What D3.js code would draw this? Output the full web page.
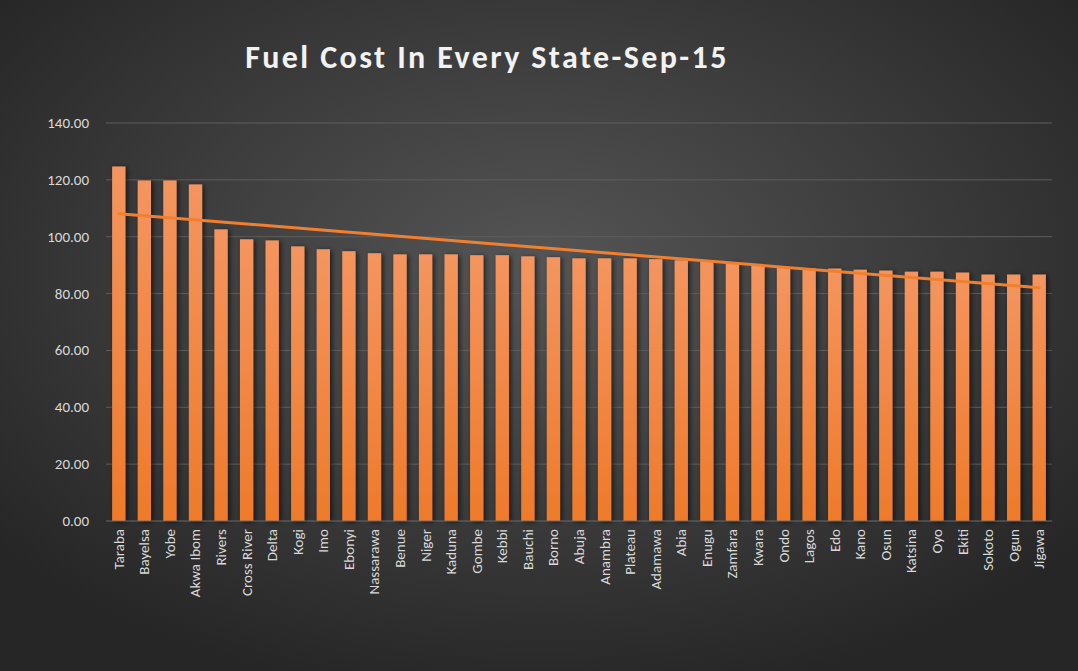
<!DOCTYPE html>
<html>
<head>
<meta charset="utf-8">
<script src="https://cdn.jsdelivr.net/npm/d3@7"></script>
<style>
  body { margin: 0; background: #2b2b2b; }
  text { font-family: Calibri, Carlito, "Liberation Sans", sans-serif; }
</style>
</head>
<body>
<div id="chart"></div>
<script>
    const states = ["Taraba","Bayelsa","Yobe","Akwa Ibom","Rivers","Cross River","Delta","Kogi","Imo","Ebonyi",
                    "Nassarawa","Benue","Niger","Kaduna","Gombe","Kebbi","Bauchi","Borno","Abuja","Anambra",
                    "Plateau","Adamawa","Abia","Enugu","Zamfara","Kwara","Ondo","Lagos","Edo","Kano",
                    "Osun","Katsina","Oyo","Ekiti","Sokoto","Ogun","Jigawa"];
    const costs = [124.7,119.8,119.8,118.4,102.6,99.1,98.7,96.6,95.6,94.9,
                   94.2,93.8,93.8,93.8,93.5,93.5,93.1,92.8,92.4,92.4,
                   92.4,92.1,91.7,91.3,91.0,89.8,89.2,88.8,88.8,88.4,
                   88.1,87.7,87.7,87.4,86.7,86.7,86.7];
    const yTicks = [0,20,40,60,80,100,120,140];

    const width = 1078, height = 671,
          margin = {top: 123, right: 26, bottom: 150, left: 106};

    const svg = d3.select('#chart').append('svg')
            .attr("width", width).attr("height", height);
    const defs = svg.append("defs");
    const bg = defs.append("radialGradient").attr("id", "bg")
            .attr("cx", "50%").attr("cy", "40%").attr("r", "65%");
    bg.append("stop").attr("offset", "0%").attr("stop-color", "#555555");
    bg.append("stop").attr("offset", "100%").attr("stop-color", "#262626");
    const bar = defs.append("linearGradient").attr("id", "bar")
            .attr("x1", 0).attr("y1", 0).attr("x2", 0).attr("y2", 1);
    bar.append("stop").attr("offset", "0%").attr("stop-color", "#f4955f");
    bar.append("stop").attr("offset", "100%").attr("stop-color", "#ee7a2a");
    const sh = defs.append("filter").attr("id", "shadow")
            .attr("x", "-50%").attr("y", "-10%").attr("width", "200%").attr("height", "120%");
    sh.append("feDropShadow").attr("dx", 2).attr("dy", 1).attr("stdDeviation", 2.5)
            .attr("flood-color", "#000").attr("flood-opacity", 0.6);

    svg.append("rect").attr("width", width).attr("height", height).attr("fill", "url(#bg)");

    svg.append("text").text("Fuel Cost In Every State-Sep-15")
            .attr("x", 487).attr("y", 68).attr("text-anchor", "middle")
            .attr("fill", "#f2f2f2").attr("font-size", 32).attr("font-weight", "bold")
            .attr("letter-spacing", 2.4);

    const x = d3.scaleBand().domain(states)
            .range([margin.left, width - margin.right]).paddingInner(0.48).paddingOuter(0.24);
    const y = d3.scaleLinear().domain([0, 140]).range([height - margin.bottom + 0, margin.top]);

    svg.append("g").selectAll("line").data(yTicks.slice(1)).enter().append("line")
            .attr("x1", margin.left).attr("x2", width - margin.right)
            .attr("y1", d => y(d)).attr("y2", d => y(d))
            .attr("stroke", "#5e5e5e").attr("stroke-width", 1);

    svg.append("g").selectAll("text").data(yTicks).enter().append("text")
            .text(d => d.toFixed(2))
            .attr("x", 89).attr("y", d => y(d) + 5)
            .attr("text-anchor", "end").attr("fill", "#d9d9d9").attr("font-size", 15);

    svg.append("g").selectAll("rect").data(costs).enter().append("rect")
            .attr("x", (d, i) => x(states[i]))
            .attr("y", d => y(d))
            .attr("width", x.bandwidth())
            .attr("height", d => y(0) - y(d))
            .attr("fill", "url(#bar)")
            .attr("filter", "url(#shadow)");

    svg.append("line").attr("x1", margin.left).attr("x2", width - margin.right)
            .attr("y1", y(0)).attr("y2", y(0)).attr("stroke", "#6a6a6a");

    // linear trend line
    const n = costs.length,
          mx = (n - 1) / 2,
          my = d3.mean(costs);
    let num = 0, den = 0;
    costs.forEach((c, i) => { num += (i - mx) * (c - my); den += (i - mx) * (i - mx); });
    const slope = num / den, icpt = my - slope * mx;
    const cx = i => x(states[i]) + x.bandwidth() / 2;
    svg.append("line")
            .attr("x1", cx(0)).attr("y1", y(icpt))
            .attr("x2", cx(n - 1)).attr("y2", y(icpt + slope * (n - 1)))
            .attr("stroke", "#f0802f").attr("stroke-width", 3).attr("stroke-linecap", "round");

    svg.append("g").selectAll("text").data(states).enter().append("text")
            .text(d => d)
            .attr("transform", d => "translate(" + (x(d) + x.bandwidth() / 2 + 5) + "," + (y(0) + 8) + ") rotate(-90)")
            .attr("text-anchor", "end").attr("fill", "#d9d9d9").attr("font-size", 15);
</script>
</body>
</html>
